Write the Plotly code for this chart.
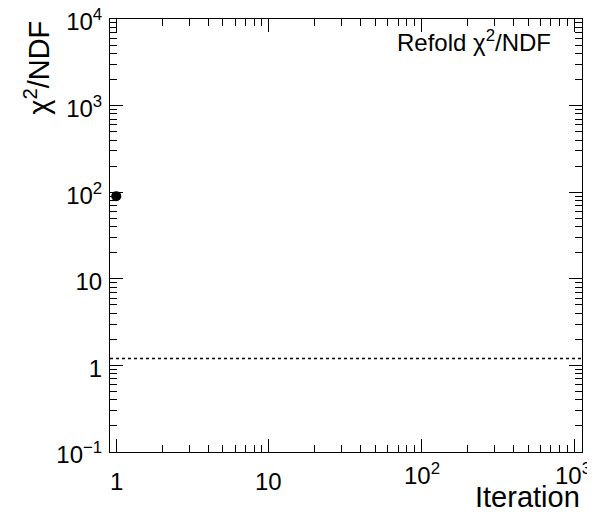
import math
import plotly.graph_objects as go

# Data
iterations = [1]
chi2_ndf = [90]
reference_level = 1.2

x_tick_vals = [1, 10, 100, 1000]
x_tick_text = ["1", "10", "10<sup>2</sup>", "10<sup>3</sup>"]
y_tick_vals = [0.1, 1, 10, 100, 1000, 10000]
y_tick_text = ["10<sup>\u22121</sup>", "1", "10", "10<sup>2</sup>", "10<sup>3</sup>", "10<sup>4</sup>"]

FONT = "Liberation Sans, Arial, Helvetica, sans-serif"

fig = go.Figure()
fig.add_trace(go.Scatter(
    x=iterations, y=chi2_ndf, mode="markers",
    marker=dict(color="black", size=10, symbol="circle"),
    showlegend=False,
))

fig.add_hline(y=reference_level, line=dict(color="black", width=1.5, dash="3px,3px"))

axis_common = dict(
    type="log", showgrid=False, zeroline=False, automargin=False,
    showline=True, linecolor="black", linewidth=1, mirror="ticks",
    ticks="inside", ticklen=13, tickwidth=1, tickcolor="black",
    tickfont=dict(family=FONT, size=24, color="black"),
    ticklabeloverflow="allow",
    minor=dict(ticks="inside", ticklen=7, tickwidth=1, tickcolor="black", dtick="D1", showgrid=False),
)

fig.update_xaxes(range=[-0.041, 3.05], tickmode="array", tickvals=x_tick_vals, ticktext=x_tick_text,
                 showticklabels=False, **axis_common)
fig.update_yaxes(range=[-1, 4], tickmode="array", tickvals=y_tick_vals, ticktext=y_tick_text,
                 ticklabelstandoff=2, ticklabelshift=3, **axis_common)

# x tick labels placed through the x scale (ROOT-like: labels with exponents sit a little higher)
for xv, xt in zip(x_tick_vals, x_tick_text):
    fig.add_annotation(text=xt, xref="x", yref="paper", x=math.log10(xv),
                       y=(-0.05 if "<sup>" in xt else -0.067), xanchor="center", yanchor="middle",
                       xshift=(-1 if xv == x_tick_vals[-1] else 0),
                       showarrow=False, font=dict(family=FONT, size=24, color="black"))

fig.add_annotation(text="Refold \u03c7<sup>2</sup>/NDF", xref="paper", yref="paper",
                   x=0.9386, y=0.95, xanchor="right", yanchor="middle", showarrow=False,
                   font=dict(family=FONT, size=24, color="black"))
fig.add_annotation(text="Iteration", xref="paper", yref="paper",
                   x=1.0, y=-0.105, xanchor="right", yanchor="middle", showarrow=False,
                   font=dict(family=FONT, size=29, color="black"))
fig.add_annotation(text="\u03c7<sup>2</sup>/NDF", xref="paper", yref="paper",
                   x=-0.155, y=1.0, xanchor="center", yanchor="top", textangle=-90, showarrow=False,
                   font=dict(family=FONT, size=29, color="black"))

# page body has an 8px default margin; size the figure so the plot frame lands where the reference's does
fig.update_layout(
    width=587, height=506,
    margin=dict(l=102, r=13, t=11, b=62, autoexpand=False),
    paper_bgcolor="white", plot_bgcolor="white",
    font=dict(family=FONT, color="black"),
)

fig.write_html("out.html")
